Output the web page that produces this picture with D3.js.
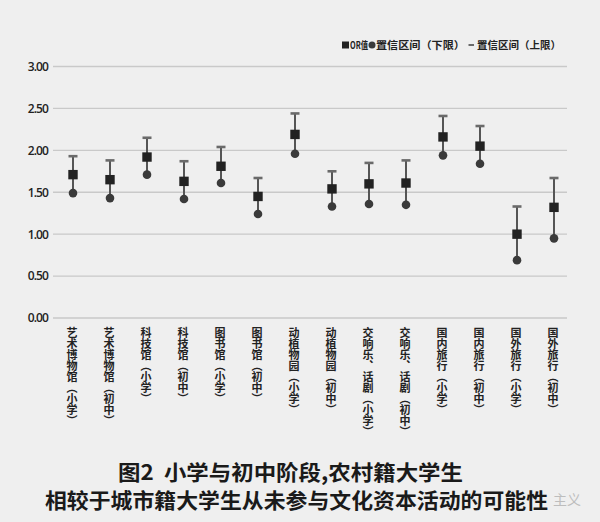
<!DOCTYPE html>
<html><head><meta charset="utf-8">
<script src="https://cdn.jsdelivr.net/npm/d3@7"></script>
<style>
html,body{margin:0;padding:0;background:#efefef;}
svg{display:block;}
</style></head>
<body>
<script>
const categories = ["艺术博物馆（小学）","艺术博物馆（初中）","科技馆（小学）","科技馆（初中）","图书馆（小学）","图书馆（初中）","动植物园（小学）","动植物园（初中）","交响乐、话剧（小学）","交响乐、话剧（初中）","国内旅行（小学）","国内旅行（初中）","国外旅行（小学）","国外旅行（初中）"];
const orValues = [1.71,1.65,1.92,1.63,1.81,1.45,2.19,1.54,1.60,1.61,2.16,2.05,1.00,1.32];
const lowerCI  = [1.49,1.43,1.71,1.42,1.61,1.24,1.96,1.33,1.36,1.35,1.94,1.84,0.69,0.95];
const upperCI  = [1.93,1.88,2.15,1.87,2.04,1.67,2.44,1.75,1.85,1.88,2.41,2.29,1.33,1.67];
const yTicks = [0,0.5,1,1.5,2,2.5,3];
const legendLabels = ["OR值","置信区间（下限）","置信区间（上限）"];
const titleLines = ["图2  小学与初中阶段,农村籍大学生","相较于城市籍大学生从未参与文化资本活动的可能性"];

const W=600,H=522;
const cjk = "'Noto Sans CJK SC','Noto Sans',sans-serif";
const svg = d3.select("body").append("svg").attr("width",W).attr("height",H);
svg.append("rect").attr("width",W).attr("height",H).attr("fill","#efefef");

const x = d3.scalePoint().domain(categories).range([73,554]);
const y = d3.scaleLinear().domain([0,3]).range([318,66.5]);

// gridlines
const grid = svg.append("g");
grid.selectAll("line").data(yTicks).join("line")
  .attr("x1",53).attr("x2",567)
  .attr("y1",d=>y(d)).attr("y2",d=>y(d))
  .attr("stroke","#c9c9c9").attr("stroke-width",1.3);

// y axis labels
const yAxis = d3.axisLeft(y).tickValues(yTicks).tickFormat(d3.format(".2f")).tickSize(0).tickPadding(0);
const yg = svg.append("g").attr("transform","translate(48,0)").call(yAxis);
yg.select(".domain").remove();
yg.selectAll("text").attr("font-family","'Open Sans',sans-serif").attr("font-size",12)
  .attr("font-weight",600).attr("letter-spacing",-0.9).attr("fill","#222");

// x labels (vertical)
const xl = svg.append("g");
xl.selectAll("text").data(categories).join("text")
  .attr("x",d=>x(d)-1).attr("y",327)
  .attr("style","writing-mode: vertical-rl;")
  .attr("font-family",cjk).attr("font-size",11).attr("font-weight",700)
  .attr("fill","#222").text(d=>d);

// error bars
const marks = svg.append("g");
const idx = d3.range(categories.length);
marks.selectAll("line.ci").data(idx).join("line").attr("class","ci")
  .attr("x1",i=>x(categories[i])).attr("x2",i=>x(categories[i]))
  .attr("y1",i=>y(lowerCI[i])).attr("y2",i=>y(upperCI[i]))
  .attr("stroke","#555").attr("stroke-width",2);
marks.selectAll("line.cap").data(idx).join("line").attr("class","cap")
  .attr("x1",i=>x(categories[i])-4.5).attr("x2",i=>x(categories[i])+4.5)
  .attr("y1",i=>y(upperCI[i])).attr("y2",i=>y(upperCI[i]))
  .attr("stroke","#6a6a6a").attr("stroke-width",2.6);
marks.selectAll("circle").data(idx).join("circle")
  .attr("cx",i=>x(categories[i])).attr("cy",i=>y(lowerCI[i])).attr("r",4.3)
  .attr("fill","#3a3a3a");
marks.selectAll("rect").data(idx).join("rect")
  .attr("x",i=>x(categories[i])-4.7).attr("y",i=>y(orValues[i])-4.7)
  .attr("width",9.4).attr("height",9.4).attr("fill","#222");

// legend
const lg = svg.append("g").attr("font-family",cjk).attr("font-size",10.5).attr("font-weight",700).attr("fill","#222");
lg.append("rect").attr("x",342).attr("y",41.5).attr("width",7).attr("height",7).attr("fill","#222");
lg.append("text").attr("x",350).attr("y",48.8).attr("textLength",18).attr("lengthAdjust","spacingAndGlyphs").text(legendLabels[0]);
lg.append("circle").attr("cx",372).attr("cy",45).attr("r",3.5).attr("fill","#3a3a3a");
lg.append("text").attr("x",376).attr("y",48.8).attr("textLength",89).attr("lengthAdjust","spacingAndGlyphs").text(legendLabels[1]);
lg.append("line").attr("x1",468.5).attr("x2",474).attr("y1",45).attr("y2",45).attr("stroke","#6a6a6a").attr("stroke-width",2);
lg.append("text").attr("x",477).attr("y",48.8).attr("textLength",84).attr("lengthAdjust","spacingAndGlyphs").text(legendLabels[2]);

// title
const tg = svg.append("g").attr("font-family",cjk).attr("font-weight",700).attr("font-size",21).attr("fill","#1a1a1a");
tg.append("text").attr("x",118).attr("y",480).attr("xml:space","preserve")
  .attr("textLength",345).attr("lengthAdjust","spacingAndGlyphs").text(titleLines[0]);
tg.append("text").attr("x",45).attr("y",508)
  .attr("textLength",503).attr("lengthAdjust","spacingAndGlyphs").text(titleLines[1]);

// watermark
svg.append("text").attr("x",553).attr("y",505).attr("font-family",cjk).attr("font-size",14)
  .attr("fill","#bdbdbd").text("主义");
</script>
</body></html>
